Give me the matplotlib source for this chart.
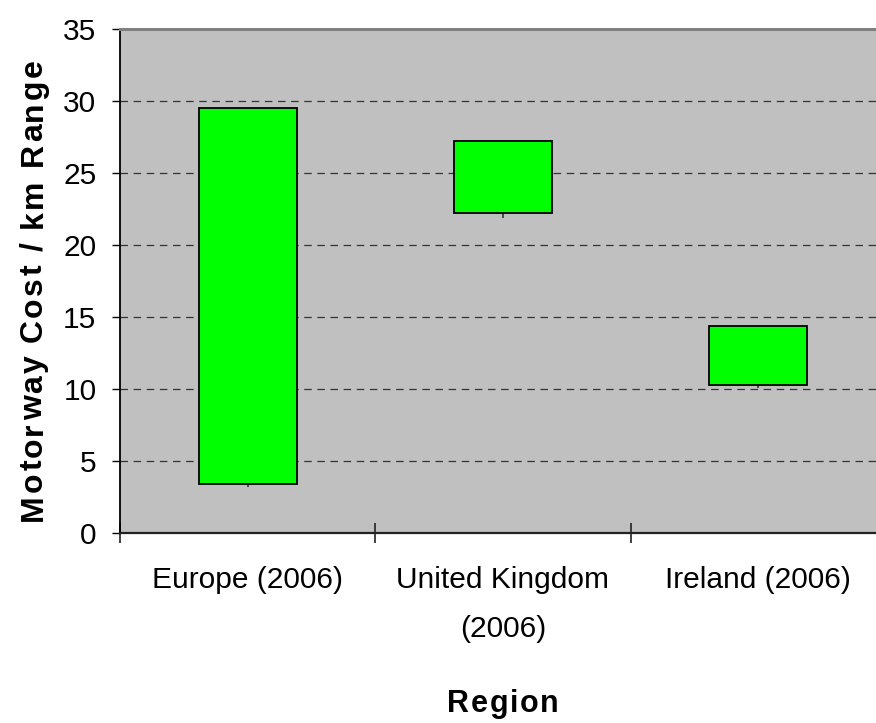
import matplotlib
matplotlib.use("Agg")
import matplotlib.pyplot as plt
import numpy as np

# ---- data ----
categories = ["Europe (2006)", "United Kingdom\n(2006)", "Ireland (2006)"]
range_low = [3.2, 21.9, 10.1]     # low whisker end
box_bottom = [3.4, 22.2, 10.3]
box_top = [29.5, 27.2, 14.4]
range_high = [29.5, 27.2, 14.4]
y_ticks = [0, 5, 10, 15, 20, 25, 30, 35]
y_label = "Motorway Cost / km Range"
x_label = "Region"

plt.rcParams['font.family'] = ['Liberation Sans', 'DejaVu Sans']

W, H = 876, 723
fig = plt.figure(figsize=(W / 100, H / 100), dpi=100)
fig.patch.set_facecolor("white")

# axes in pixel coordinates (right edge lies beyond the figure as in the reference)
left_px, right_px, top_px, bottom_px = 120, 886, 29, 533
ax = fig.add_axes([left_px / W, 1 - bottom_px / H, (right_px - left_px) / W, (bottom_px - top_px) / H])
ax.set_facecolor("#C0C0C0")
ax.set_xlim(0, 3)
ax.set_ylim(0, 35)

# gridlines
for yt in y_ticks[1:-1]:
    ax.axhline(yt, color="#333333", lw=0.9, linestyle=(0, (6, 4.5)), zorder=1)

x = np.arange(len(categories)) + 0.5
bar_w = 0.383
# high-low lines
ax.vlines(x, range_low, range_high, color="#333333", lw=1.2, zorder=2)
# boxes
ax.bar(x, np.array(box_top) - np.array(box_bottom), bottom=box_bottom, width=bar_w,
       color="#00FF00", edgecolor="black", linewidth=1.3, zorder=3)

# spines
ax.spines['top'].set_color("#808080")
ax.spines['top'].set_linewidth(2.2)
ax.spines['right'].set_visible(False)
ax.spines['left'].set_color("black")
ax.spines['left'].set_linewidth(1.3)
ax.spines['bottom'].set_color("#222222")
ax.spines['bottom'].set_linewidth(1.6)

# y ticks
ax.set_yticks(y_ticks)
ax.set_yticklabels([str(v) for v in y_ticks])
ax.tick_params(axis='y', direction='out', length=5.5, width=1, color='black',
               labelsize=21.5, pad=11.5)

# x ticks: major at boundaries (no labels), minor at centres (labels)
ax.set_xticks([0, 1, 2, 3])
ax.set_xticklabels([])
ax.tick_params(axis='x', which='major', direction='inout', length=14.4, width=1.2, color='#222222')
ax.set_xticks(x, minor=True)
ax.set_xticklabels(categories, minor=True, fontsize=21.5, linespacing=1.95)
ax.tick_params(axis='x', which='minor', length=0, pad=24)


def spaced_text(s, x0, y0, size, spacing, rotation=0):
    """Draw letter-spaced bold text; x0,y0 in pixels from top-left.
    For rotation 0: (x0,y0) = centre x, baseline y.
    For rotation 90: (x0,y0) = baseline x, centre y."""
    renderer = fig.canvas.get_renderer()
    def width(t):
        tt = fig.text(0, 0, t, fontsize=size, fontweight='bold')
        w = tt.get_window_extent(renderer).width
        tt.remove()
        return w
    base = width("HH")
    ws = [width("H" + c + "H") - base for c in s]
    total = sum(ws) + spacing * (len(s) - 1)
    pos = -total / 2
    for c, w in zip(s, ws):
        if rotation == 0:
            px, py = x0 + pos, y0
        else:
            px, py = x0, y0 - pos
        fig.text(px / W, 1 - py / H, c, fontsize=size, fontweight='bold',
                 rotation=rotation, rotation_mode='anchor', ha='left', va='baseline')
        pos += w + spacing


spaced_text(y_label, 42, 290, 23, 2.3, rotation=90)
spaced_text(x_label, 503, 712, 22, 1.6, rotation=0)

fig.savefig("out.png", dpi=100, facecolor="white")
